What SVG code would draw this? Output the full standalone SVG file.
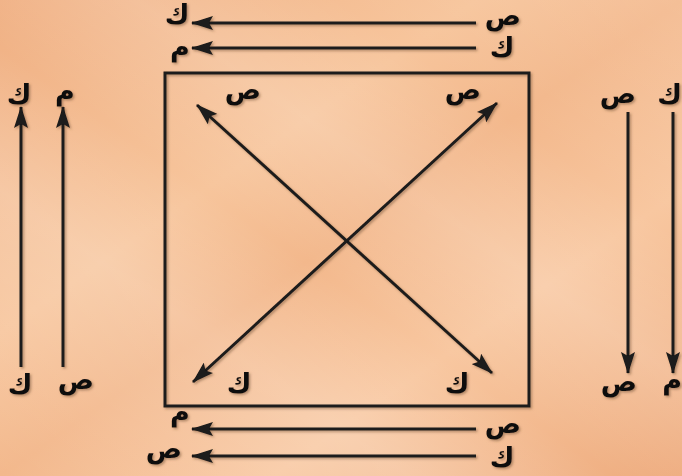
<svg xmlns="http://www.w3.org/2000/svg" width="682" height="476" viewBox="0 0 682 476">
<defs>
<linearGradient id="bg" x1="0" y1="0" x2="1" y2="1">
<stop offset="0" stop-color="#f0b083"/>
<stop offset="0.35" stop-color="#f7c59c"/>
<stop offset="0.5" stop-color="#f3b88c"/>
<stop offset="0.7" stop-color="#f8c7a0"/>
<stop offset="1" stop-color="#eeab7d"/>
</linearGradient>
<linearGradient id="streak" x1="0" y1="1" x2="1" y2="0">
<stop offset="0" stop-color="#fff" stop-opacity="0"/>
<stop offset="0.3" stop-color="#fff" stop-opacity="0.18"/>
<stop offset="0.45" stop-color="#fff" stop-opacity="0"/>
<stop offset="0.6" stop-color="#fff" stop-opacity="0.15"/>
<stop offset="0.75" stop-color="#fff" stop-opacity="0"/>
<stop offset="1" stop-color="#fff" stop-opacity="0.1"/>
</linearGradient>
<filter id="sh" x="-20%" y="-20%" width="140%" height="140%">
<feDropShadow dx="1.5" dy="1.5" stdDeviation="1" flood-color="#6b4a30" flood-opacity="0.5"/>
</filter>
<marker id="ah" viewBox="0 0 22 14" refX="21" refY="7" markerWidth="22" markerHeight="14" orient="auto-start-reverse" markerUnits="userSpaceOnUse">
<path d="M0,0 L22,7 L0,14 L4,7 Z" fill="#1a1a1a"/>
</marker>
</defs>
<style>
.ln{stroke:#1a1a1a;stroke-width:3;fill:none}
.t{font-family:"DejaVu Sans",sans-serif;font-weight:bold;font-size:27px;fill:#111;text-anchor:middle}
</style>
<rect width="682" height="476" fill="url(#bg)"/>
<rect width="682" height="476" fill="url(#streak)"/>

<g id="box" filter="url(#sh)">
<rect x="165" y="73" width="364" height="333" fill="none" stroke="#1a1a1a" stroke-width="3"/>
</g>

<g id="connectors" filter="url(#sh)">
<line class="ln" x1="476" y1="23" x2="192" y2="23" marker-end="url(#ah)"/>
<line class="ln" x1="476" y1="48" x2="192" y2="48" marker-end="url(#ah)"/>
<line class="ln" x1="476" y1="429" x2="192" y2="429" marker-end="url(#ah)"/>
<line class="ln" x1="476" y1="456" x2="192" y2="456" marker-end="url(#ah)"/>
<line class="ln" x1="21" y1="367" x2="21" y2="107" marker-end="url(#ah)"/>
<line class="ln" x1="63" y1="367" x2="63" y2="107" marker-end="url(#ah)"/>
<line class="ln" x1="628" y1="112" x2="628" y2="373" marker-end="url(#ah)"/>
<line class="ln" x1="673" y1="112" x2="673" y2="373" marker-end="url(#ah)"/>
<line class="ln" x1="197" y1="105" x2="492" y2="373" marker-start="url(#ah)" marker-end="url(#ah)"/>
<line class="ln" x1="497" y1="103" x2="193" y2="382" marker-start="url(#ah)" marker-end="url(#ah)"/>
</g>

<g id="labels" filter="url(#sh)">
<g id="top1"><text class="t" x="503" y="25">ص</text><text class="t" x="177" y="24">ك</text></g>
<g id="top2"><text class="t" x="502" y="57">ك</text><text class="t" x="180" y="56">م</text></g>
<g id="bot1"><text class="t" x="503" y="433">ص</text><text class="t" x="180" y="421">م</text></g>
<g id="bot2"><text class="t" x="502" y="467">ك</text><text class="t" x="164" y="458">ص</text></g>
<g id="left1"><text class="t" x="19" y="104">ك</text><text class="t" x="65" y="100">م</text></g>
<g id="left2"><text class="t" x="20" y="394">ك</text><text class="t" x="76" y="389">ص</text></g>
<g id="right1"><text class="t" x="618" y="103">ص</text><text class="t" x="682" y="104" style="text-anchor:end">ك</text></g>
<g id="right2"><text class="t" x="619" y="391">ص</text><text class="t" x="682" y="389" style="text-anchor:end">م</text></g>
<g id="inner"><text class="t" x="243" y="99">ص</text><text class="t" x="463" y="99">ص</text><text class="t" x="239" y="393">ك</text><text class="t" x="457" y="393">ك</text></g>
</g>
</svg>
